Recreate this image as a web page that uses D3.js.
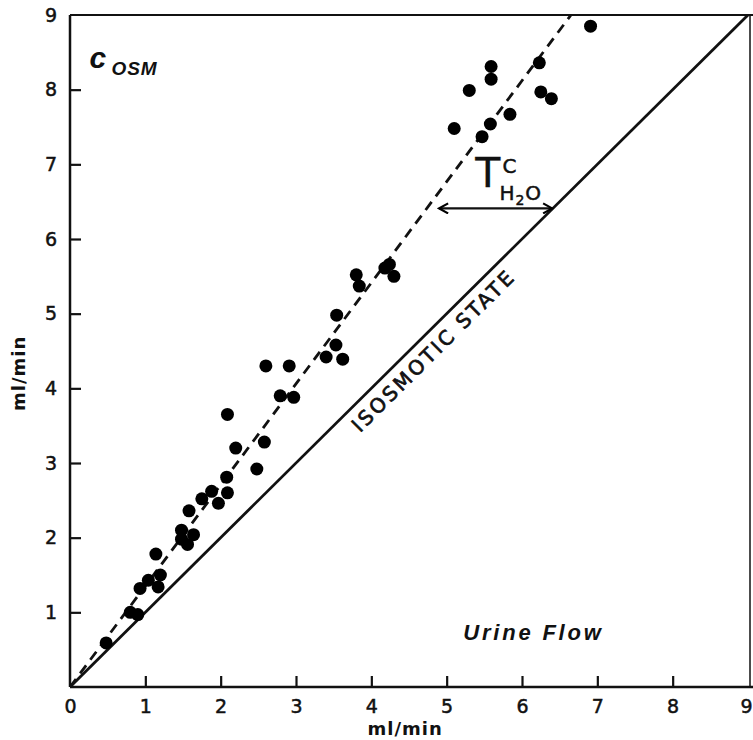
<!DOCTYPE html>
<html>
<head>
<meta charset="utf-8">
<script src="https://cdn.jsdelivr.net/npm/d3@7"></script>
<style>
  body { margin: 0; background: #fff; }
  svg  { display: block; }
</style>
</head>
<body>
<div id="chart"></div>
<script>
///// 1. DATOS
const URINE_FLOW = [0.48, 0.80, 0.90, 0.93, 1.04, 1.20, 1.17, 1.14,
                    1.48, 1.48, 1.64, 1.56, 1.58, 1.75, 1.88, 1.97, 2.09,
                    2.08, 2.48, 2.58, 2.20, 2.09, 2.79, 2.97, 2.60, 2.91,
                    3.40, 3.62, 3.53, 3.54, 3.80, 3.84, 4.18, 4.24, 4.30,
                    5.10, 5.47, 5.58, 5.84, 5.30, 5.59, 5.59, 6.23, 6.25,
                    6.39, 6.91];
const C_OSM      = [0.59, 1.00, 0.97, 1.32, 1.43, 1.50, 1.34, 1.78,
                    2.10, 1.98, 2.04, 1.91, 2.36, 2.52, 2.62, 2.46, 2.60,
                    2.81, 2.92, 3.28, 3.20, 3.65, 3.90, 3.88, 4.30, 4.30,
                    4.42, 4.39, 4.58, 4.98, 5.52, 5.37, 5.61, 5.66, 5.50,
                    7.48, 7.37, 7.54, 7.67, 7.99, 8.14, 8.31, 8.36, 7.97,
                    7.88, 8.85];

const X_TICKS = [0, 1, 2, 3, 4, 5, 6, 7, 8, 9];
const Y_TICKS = [1, 2, 3, 4, 5, 6, 7, 8, 9];

const ISO_LINE    = [[0, 0], [9, 9]];        // estado isosmótico
const FIT_LINE    = [[0, 0], [6.65, 9]];     // recta de C_osm
const TCH2O_ARROW = [[4.9, 6.41], [6.4, 6.41]];

///// 2. ESCALAS
const W = 753, H = 740;
const x = d3.scaleLinear([0, 9], [70, 748]);
const y = d3.scaleLinear([0, 9], [687, 15]);

const svg = d3.select('#chart').append('svg')
              .attr('width', W).attr('height', H)
              .attr('viewBox', [0, 0, W, H]);

const defs = svg.append('defs');
['start', 'end'].forEach(k => {
  defs.append('marker')
      .attr('id', 'arr-' + k)
      .attr('viewBox', '-10 -6 12 12')
      .attr('markerWidth', 12).attr('markerHeight', 12)
      .attr('markerUnits', 'userSpaceOnUse')
      .attr('orient', k === 'end' ? 'auto' : 'auto-start-reverse')
      .append('path')
        .attr('d', 'M-9,-5 L0,0 L-9,5')
        .attr('fill', 'none').attr('stroke', '#000').attr('stroke-width', 2.2);
});

///// 3. EJES
const ink = '#111';
const FONT = '"DejaVu Sans", sans-serif';
const xAxis = svg.append('g')
  .attr('transform', `translate(0,${y(0)})`)
  .call(d3.axisBottom(x).tickValues(X_TICKS).tickSize(-11).tickPadding(13));
const yAxis = svg.append('g')
  .attr('transform', `translate(${x(0)},0)`)
  .call(d3.axisLeft(y).tickValues(Y_TICKS).tickSize(-11).tickPadding(13));

[xAxis, yAxis].forEach(g => {
  g.select('.domain').remove();
  g.selectAll('line').attr('stroke', ink).attr('stroke-width', 2.2);
  g.selectAll('text')
   .attr('fill', ink)
   .attr('stroke', ink).attr('stroke-width', 0.5)
   .style('font-family', FONT)
   .style('font-size', '19px');
});
xAxis.selectAll('.tick').filter(d => d === 0 || d === 9).select('line').remove();
yAxis.selectAll('.tick').filter(d => d === 9).select('line').remove();
// el "9" queda pegado al borde derecho
xAxis.selectAll('.tick').filter(d => d === 9).select('text')
     .attr('text-anchor', 'end').attr('x', W - x(9) - 1);

// marco
svg.append('line').attr('x1', x(0)).attr('x2', W).attr('y1', y(0)).attr('y2', y(0))
   .attr('stroke', ink).attr('stroke-width', 2.5);
svg.append('line').attr('x1', x(0)).attr('x2', x(0)).attr('y1', y(0)).attr('y2', y(9))
   .attr('stroke', ink).attr('stroke-width', 2.5);
svg.append('line').attr('x1', x(0)).attr('x2', W).attr('y1', y(9)).attr('y2', y(9))
   .attr('stroke', ink).attr('stroke-width', 2);
svg.append('line').attr('x1', x(9) + 2).attr('x2', x(9) + 2).attr('y1', y(9)).attr('y2', y(0))
   .attr('stroke', ink).attr('stroke-width', 1.5);

// títulos de ejes
svg.append('text')
   .attr('x', x(4.45)).attr('y', 735)
   .attr('text-anchor', 'middle')
   .style('font-family', FONT)
   .style('font-size', '18px').style('font-weight', 'bold')
   .style('letter-spacing', '1px')
   .attr('fill', ink).text('ml/min');
svg.append('text')
   .attr('transform', `translate(25,${y(4.2)}) rotate(-90)`)
   .attr('text-anchor', 'middle')
   .style('font-family', FONT)
   .style('font-size', '18px').style('font-weight', 'bold')
   .style('letter-spacing', '1px')
   .attr('fill', ink).text('ml/min');

///// 4. LÍNEAS
const line = d3.line(d => x(d[0]), d => y(d[1]));
svg.append('path').attr('d', line(ISO_LINE))
   .attr('fill', 'none').attr('stroke', ink).attr('stroke-width', 2.8);
svg.append('path').attr('d', line(FIT_LINE))
   .attr('fill', 'none').attr('stroke', ink).attr('stroke-width', 2.8)
   .attr('stroke-dasharray', '10,7');

///// 5. PUNTOS
svg.append('g')
   .selectAll('circle')
   .data(d3.zip(URINE_FLOW, C_OSM))
   .join('circle')
     .attr('cx', d => x(d[0]))
     .attr('cy', d => y(d[1]))
     .attr('r', 6.5)
     .attr('fill', '#000');

///// 6. ANOTACIONES
svg.append('path').attr('d', line(TCH2O_ARROW))
   .attr('fill', 'none').attr('stroke', ink).attr('stroke-width', 2.2)
   .attr('marker-start', 'url(#arr-start)').attr('marker-end', 'url(#arr-end)');

const label = (xv, yv, txt, size, opts = {}) =>
  svg.append('text')
     .attr('x', x(xv)).attr('y', y(yv))
     .attr('fill', ink)
     .attr('stroke', opts.stroke ? ink : null)
     .attr('stroke-width', opts.stroke || null)
     .style('font-family', opts.family || '"Liberation Sans", sans-serif')
     .style('font-size', size + 'px')
     .style('font-weight', opts.weight || 'normal')
     .style('font-style', opts.style || 'normal')
     .style('letter-spacing', (opts.ls || 0) + 'px')
     .text(txt);

label(0.26, 8.29, 'c', 30, { weight: 'bold', style: 'italic' });
label(0.55, 8.20, 'OSM', 19, { weight: 'bold', style: 'italic', ls: 1 });
label(5.22, 0.63, 'Urine Flow', 22, { weight: 'bold', style: 'italic', ls: 2.8 });

label(5.38, 6.70, 'T', 41, { family: FONT, stroke: 0.3 });
label(5.74, 6.88, 'C', 20, { family: FONT, stroke: 0.5 });
const h2o = label(5.70, 6.52, 'H', 20, { family: FONT, stroke: 0.5, ls: 1 });
h2o.append('tspan').attr('dy', 5).style('font-size', '14px').text('2');
h2o.append('tspan').attr('dy', -5).text('O');

// ISOSMOTIC STATE, paralelo a la recta y = x
const ang = Math.atan2(y(9) - y(0), x(9) - x(0)) * 180 / Math.PI;
svg.append('text')
   .attr('transform', `translate(${x(3.85)},${y(3.40)}) rotate(${ang})`)
   .attr('fill', ink)
   .attr('stroke', ink).attr('stroke-width', 0.7)
   .style('font-family', FONT)
   .style('font-size', '20px')
   .style('letter-spacing', '2.8px')
   .text('ISOSMOTIC STATE');
</script>
</body>
</html>
